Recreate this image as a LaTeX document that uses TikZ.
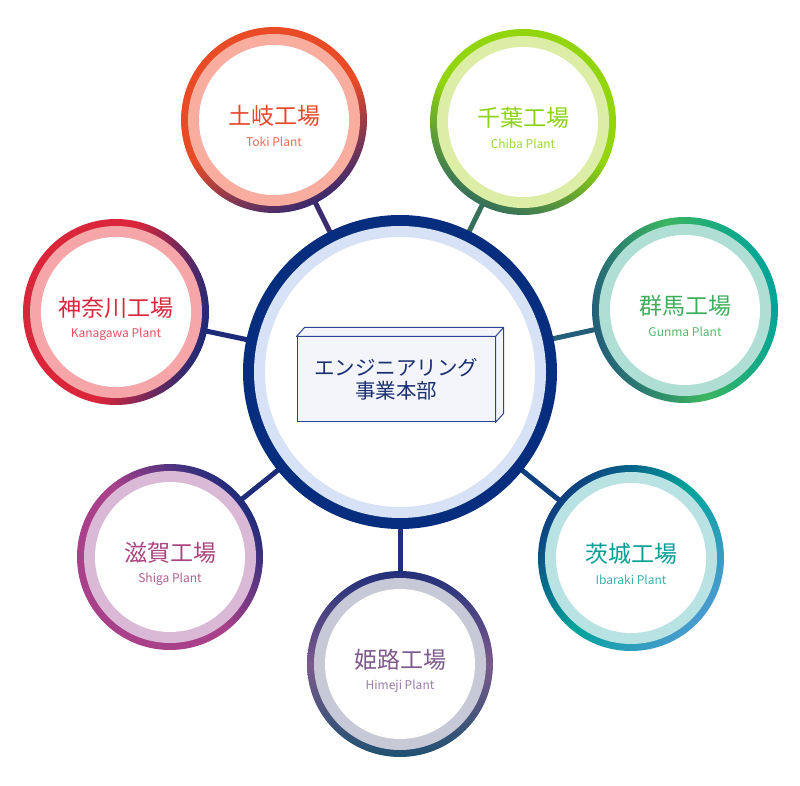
\documentclass[tikz,border=0pt]{standalone}
\usepackage{fontspec}
\setmainfont{Noto Sans CJK JP}
\usepackage{tikz}

\definecolor{hubnavy}{HTML}{062D7E}
\definecolor{hublav}{HTML}{D8E2F6}
\definecolor{boxfill}{HTML}{F3F5FA}
\definecolor{boxline}{HTML}{2A4590}
\definecolor{boxtext}{HTML}{1B2F70}
% far / middle / near colours, light ring, label colours
\definecolor{tokiA}{HTML}{E94B26}\definecolor{tokiN}{HTML}{3A2A6E}\definecolor{tokiL}{HTML}{F8AD9F}
\definecolor{tokiT}{HTML}{E8482A}\definecolor{tokiE}{HTML}{EE6B50}
\definecolor{chibaA}{HTML}{92D50C}\definecolor{chibaN}{HTML}{35705A}\definecolor{chibaL}{HTML}{DCEDA5}
\definecolor{chibaT}{HTML}{8CD313}\definecolor{chibaE}{HTML}{9CD92E}
\definecolor{gunmaA}{HTML}{00A49A}\definecolor{gunmaM}{HTML}{3BB55F}\definecolor{gunmaN}{HTML}{245E7A}
\definecolor{gunmaL}{HTML}{AEDED4}\definecolor{gunmaT}{HTML}{3DAF5C}\definecolor{gunmaE}{HTML}{55B870}
\definecolor{ibaA}{HTML}{4A9BD0}\definecolor{ibaM}{HTML}{00A39A}\definecolor{ibaN}{HTML}{0E3F80}
\definecolor{ibaL}{HTML}{B9E2E3}\definecolor{ibaT}{HTML}{00A096}\definecolor{ibaE}{HTML}{3AB0AA}
\definecolor{himeA}{HTML}{1E5170}\definecolor{himeM}{HTML}{7C5A8C}\definecolor{himeN}{HTML}{22307A}
\definecolor{himeL}{HTML}{C8C9D7}\definecolor{himeT}{HTML}{7F5A8D}\definecolor{himeE}{HTML}{9A7AA8}
\definecolor{shigaA}{HTML}{A8408A}\definecolor{shigaN}{HTML}{1F2C7A}\definecolor{shigaL}{HTML}{D9B9D5}
\definecolor{shigaT}{HTML}{A9447F}\definecolor{shigaE}{HTML}{B65D92}
\definecolor{kanaA}{HTML}{DA263B}\definecolor{kanaN}{HTML}{1C2A78}\definecolor{kanaL}{HTML}{F6A6A8}
\definecolor{kanaT}{HTML}{D7283D}\definecolor{kanaE}{HTML}{E45060}

\begin{document}
\begin{tikzpicture}[x=1pt, y=1pt,
		link/.style={line width=5pt},
		jp/.style={font=\fontsize{23}{26}\selectfont, inner sep=0pt},
		en/.style={font=\fontsize{12}{14}\selectfont, inner sep=0pt},
		hqbox/.style={draw=boxline, fill=boxfill, line width=1pt, minimum width=198pt, minimum height=85pt,
			align=center, text=boxtext, font=\fontsize{20.5}{23}\selectfont}]
	\useasboundingbox (0,0) rectangle (800,785);

	\coordinate (hub) at (400,413);
	\coordinate (toki) at (274,665);
	\coordinate (chiba) at (523,663);
	\coordinate (gunma) at (685,475);
	\coordinate (ibaraki) at (631,227);
	\coordinate (himeji) at (400,121);
	\coordinate (shiga) at (170,228);
	\coordinate (kanagawa) at (116,473);

	\draw[link, tokiN] (hub) -- (toki);
	\draw[link, chibaN] (hub) -- (chiba);
	\draw[link, gunmaN] (hub) -- (gunma);
	\draw[link, ibaN] (hub) -- (ibaraki);
	\draw[link, himeN] (hub) -- (himeji);
	\draw[link, shigaN] (hub) -- (shiga);
	\draw[link, kanaN] (hub) -- (kanagawa);

	% 土岐
	\shade[top color=tokiA, bottom color=tokiN, middle color=tokiA, shading angle=26.6] (toki) circle (93pt);
	\fill[tokiL] (toki) circle (86pt); \fill[white] (toki) circle (75pt);
	\node[jp, text=tokiT] (tokiname) at ([yshift=4pt]toki) {土岐工場};
	\node[en, text=tokiE] (tokiplant) at ([yshift=-22pt]toki) {Toki Plant};
	% 千葉
	\shade[top color=chibaA, bottom color=chibaN, middle color=chibaA, shading angle=-26.2] (chiba) circle (93pt);
	\fill[chibaL] (chiba) circle (86pt); \fill[white] (chiba) circle (75pt);
	\node[jp, text=chibaT] (chibaname) at ([yshift=4pt]chiba) {千葉工場};
	\node[en, text=chibaE] (chibaplant) at ([yshift=-22pt]chiba) {Chiba Plant};
	% 群馬
	\shade[top color=gunmaA, bottom color=gunmaN, middle color=gunmaM, shading angle=-77.7] (gunma) circle (93pt);
	\fill[gunmaL] (gunma) circle (86pt); \fill[white] (gunma) circle (75pt);
	\node[jp, text=gunmaT] (gunmaname) at ([yshift=4pt]gunma) {群馬工場};
	\node[en, text=gunmaE] (gunmaplant) at ([yshift=-22pt]gunma) {Gunma Plant};
	% 茨城
	\shade[top color=ibaA, bottom color=ibaN, middle color=ibaM, shading angle=231.2] (ibaraki) circle (93pt);
	\fill[ibaL] (ibaraki) circle (86pt); \fill[white] (ibaraki) circle (75pt);
	\node[jp, text=ibaT] (ibarakiname) at ([yshift=4pt]ibaraki) {茨城工場};
	\node[en, text=ibaE] (ibarakiplant) at ([yshift=-22pt]ibaraki) {Ibaraki Plant};
	% 姫路
	\shade[top color=himeA, bottom color=himeN, middle color=himeM, shading angle=180] (himeji) circle (93pt);
	\fill[himeL] (himeji) circle (86pt); \fill[white] (himeji) circle (75pt);
	\node[jp, text=himeT] (himejiname) at ([yshift=4pt]himeji) {姫路工場};
	\node[en, text=himeE] (himejiplant) at ([yshift=-22pt]himeji) {Himeji Plant};
	% 滋賀
	\shade[top color=shigaA, bottom color=shigaN, middle color=shigaA, shading angle=128.8] (shiga) circle (93pt);
	\fill[shigaL] (shiga) circle (86pt); \fill[white] (shiga) circle (75pt);
	\node[jp, text=shigaT] (shiganame) at ([yshift=4pt]shiga) {滋賀工場};
	\node[en, text=shigaE] (shigaplant) at ([yshift=-22pt]shiga) {Shiga Plant};
	% 神奈川
	\shade[top color=kanaA, bottom color=kanaN, middle color=kanaA, shading angle=78.1] (kanagawa) circle (93pt);
	\fill[kanaL] (kanagawa) circle (86pt); \fill[white] (kanagawa) circle (75pt);
	\node[jp, text=kanaT] (kanagawaname) at ([yshift=4pt]kanagawa) {神奈川工場};
	\node[en, text=kanaE] (kanagawaplant) at ([yshift=-22pt]kanagawa) {Kanagawa Plant};

	% 本部
	\fill[hubnavy] (hub) circle (157pt);
	\fill[hublav] (hub) circle (146pt);
	\fill[white] (hub) circle (135pt);
	\node[hqbox] (hq) at (396,405.5) {エンジニアリング\\事業本部};
	\filldraw[boxline, fill=boxfill, line width=1pt, line join=round]
		(hq.north west) -- ++(8,9) -- ([shift={(8,9)}]hq.north east) -- ([shift={(8,9)}]hq.south east)
		-- (hq.south east) -- (hq.north east) -- cycle;
	\draw[boxline, line width=1pt] (hq.north east) -- ++(8,9);
\end{tikzpicture}
\end{document}
